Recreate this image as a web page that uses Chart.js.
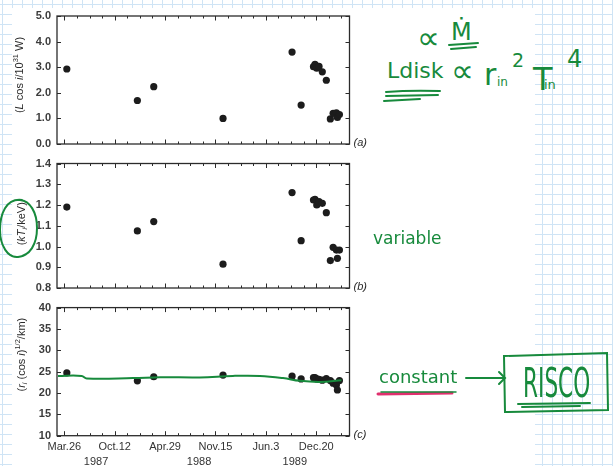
<!DOCTYPE html>
<html>
<head>
<meta charset="utf-8">
<script src="https://cdn.jsdelivr.net/npm/chart.js@4.4.0/dist/chart.umd.min.js"></script>
<style>
  html, body { margin: 0; padding: 0; }
  body {
    width: 613px; height: 466px; overflow: hidden; position: relative;
    background-color: #fff;
    background-image: linear-gradient(to right, #cfe4f5 1px, transparent 1px),
                      linear-gradient(to bottom, #cfe4f5 1px, transparent 1px);
    background-size: 10px 10px;
    background-position: 2px 4px;
  }
  #sheet { position: absolute; left: 12px; top: 8px; width: 523px; height: 458px; background: #fff; }
  canvas { position: absolute; left: 0; }
  .hw { position: absolute; color: #178a3c; font-family: "DejaVu Sans", sans-serif; font-weight: normal;
        white-space: nowrap; line-height: 1; }
  svg { position: absolute; left: 0; top: 0; }
</style>
</head>
<body>
<div id="sheet"></div>
<canvas id="lumChart" width="380" height="158" style="top:0"></canvas>
<canvas id="tempChart" width="380" height="152" style="top:150px"></canvas>
<canvas id="radChart" width="380" height="171" style="top:295px"></canvas>

<!-- handwritten notes -->
<div class="hw" style="left:417px;top:22px;font-size:32px">∝</div>
<div class="hw" style="left:451px;top:20px;font-size:24px">Ṁ</div>
<div class="hw" style="left:387px;top:60px;font-size:22px">Ldisk</div>
<div class="hw" style="left:451px;top:55px;font-size:32px">∝</div>
<div class="hw" style="left:484px;top:60px;font-size:30px">r</div>
<div class="hw" style="left:497px;top:76px;font-size:12px">in</div>
<div class="hw" style="left:512px;top:51px;font-size:19px">2</div>
<div class="hw" style="left:533px;top:63px;font-size:32px">T</div>
<div class="hw" style="left:544px;top:78px;font-size:13px">in</div>
<div class="hw" style="left:567px;top:47px;font-size:24px">4</div>
<div class="hw" style="left:373px;top:230px;font-size:17px">variable</div>
<div class="hw" style="left:379px;top:368px;font-size:18px">constant</div>
<div class="hw" style="left:523px;top:363px;font-size:40px;transform:scaleX(0.54);transform-origin:left top">RISCO</div>

<svg width="613" height="466" fill="none" stroke="#178a3c" stroke-width="2" stroke-linecap="round">
  <path d="M449 45 L478 43 M451 49 L476 47"/>
  <path d="M386 92 Q410 90 440 91 M386 96 L438 95 M384 101 L420 99"/>
  <path d="M378 394 L452 393" stroke="#e0306e" stroke-width="3"/>
  <path d="M381 392 L456 392" stroke-width="1.5"/>
  <path d="M466 378 L504 378 M499 372 L505 378 L499 384"/>
  <path d="M504 356 L607 353 L608 410 L505 412 Z"/>
  <path d="M518 404 L590 403 M522 407 L580 406"/>
  <path d="M22 200 C6 198 0 214 0 230 C0 246 8 258 18 257 C30 256 37 244 37 228 C37 212 30 201 20 200"/>
</svg>

<script>
// observation dates, days after 1987 Mar 26
const obsDays = [10, 290, 355, 630, 904, 940, 989, 995, 1002, 1011, 1024, 1040, 1056, 1067, 1080, 1084, 1092];
// (a) L cos i / 10^31 W
const lumValues = [2.93, 1.70, 2.24, 1.00, 3.59, 1.52, 3.02, 3.11, 2.96, 3.03, 2.82, 2.49, 0.98, 1.20, 1.22, 1.04, 1.15];
// (b) kT_i / keV
const tempValues = [1.19, 1.075, 1.12, 0.915, 1.26, 1.028, 1.224, 1.227, 1.20, 1.216, 1.208, 1.163, 0.932, 0.996, 0.983, 0.943, 0.983];
// (c) r_i (cos i)^1/2 / km
const radiusValues = [24.7, 22.85, 23.8, 24.2, 23.95, 23.3, 23.6, 23.6, 23.3, 23.2, 23.0, 23.4, 22.9, 22.3, 21.9, 20.7, 22.9];

// hand-drawn "constant" line over panel (c)
const sketchDays = [-25, 69, 89, 273, 380, 538, 669, 776, 868, 935, 1015, 1100];
const sketchRadius = [24.0, 24.0, 23.4, 23.5, 23.7, 23.65, 24.0, 24.0, 23.5, 22.85, 22.6, 23.0];

const tickDays = [0, 200, 400, 600, 800, 1000];
const tickLabels = ['Mar.26', 'Oct.12', 'Apr.29', 'Nov.15', 'Jun.3', 'Dec.20'];
const yearDays = [126, 535, 915];
const yearLabels = ['1987', '1988', '1989'];

const FONT = '"Liberation Sans", Arial, sans-serif';
const INK = '#2b2b2b';
const LABEL = '#333';

function drawRich(ctx, parts, cx, cy, size) {
    ctx.save();
    ctx.translate(cx, cy);
    ctx.rotate(-Math.PI / 2);
    const fontOf = p => (p.it ? 'italic ' : '') + ((p.sup || p.sub) ? size * 0.68 : size) + 'px ' + FONT;
    let w = 0;
    parts.forEach(p => { ctx.font = fontOf(p); w += ctx.measureText(p.t).width; });
    let x = -w / 2;
    ctx.textBaseline = 'middle';
    ctx.fillStyle = INK;
    parts.forEach(p => {
        ctx.font = fontOf(p);
        const dy = p.sup ? -size * 0.38 : p.sub ? size * 0.28 : 0;
        ctx.fillText(p.t, x, dy);
        x += ctx.measureText(p.t).width;
    });
    ctx.restore();
}

const framePlugin = {
    id: 'frame',
    afterDatasetsDraw(chart, args, opts) {
        const {ctx, chartArea: a, scales: {x, y}} = chart;
        ctx.save();
        ctx.strokeStyle = INK;
        ctx.lineWidth = 1.3;
        ctx.strokeRect(a.left, a.top, a.right - a.left, a.bottom - a.top);
        ctx.lineWidth = 1;
        ctx.beginPath();
        for (let d = 0; d <= 1100; d += 50) {
            const px = Math.round(x.getPixelForValue(d)) + 0.5;
            const len = d % 200 === 0 ? 4.5 : 2.5;
            ctx.moveTo(px, a.bottom); ctx.lineTo(px, a.bottom - len);
            ctx.moveTo(px, a.top); ctx.lineTo(px, a.top + len);
        }
        y.ticks.forEach(t => {
            const py = Math.round(y.getPixelForValue(t.value)) + 0.5;
            ctx.moveTo(a.left, py); ctx.lineTo(a.left + 4, py);
            ctx.moveTo(a.right, py); ctx.lineTo(a.right - 4, py);
        });
        ctx.stroke();

        ctx.fillStyle = INK;
        ctx.font = 'italic 11px ' + FONT;
        ctx.textBaseline = 'middle';
        ctx.fillText(opts.tag, a.right + 4, a.bottom - 1);

        drawRich(ctx, opts.title, opts.titleX, (a.top + a.bottom) / 2 + opts.titleShift, 11);

        if (opts.years) {
            ctx.font = '11px ' + FONT;
            ctx.textAlign = 'center';
            ctx.fillStyle = LABEL;
            yearLabels.forEach((lab, i) => {
                ctx.fillText(lab, x.getPixelForValue(yearDays[i]), a.bottom + 26);
            });
        }
        ctx.restore();
    }
};

function makePanel(id, values, yCfg, frame, pad, withAxis, extra) {
    const points = obsDays.map((d, i) => ({x: d, y: values[i]}));
    const datasets = (extra || []).concat([{
        type: 'scatter',
        data: points,
        pointRadius: 3.6,
        pointBackgroundColor: '#1c1c1c',
        pointBorderWidth: 0,
        order: 1
    }]);
    return new Chart(document.getElementById(id), {
        type: 'scatter',
        data: {datasets: datasets},
        options: {
            responsive: false,
            animation: false,
            layout: {padding: pad},
            plugins: {legend: {display: false}, tooltip: {enabled: false}, frame: frame},
            scales: {
                x: {
                    type: 'linear', min: -29, max: 1132,
                    display: withAxis,
                    grid: {display: false, drawTicks: false},
                    border: {display: false},
                    afterBuildTicks: s => { s.ticks = tickDays.map(v => ({value: v})); },
                    afterFit: s => { s.height = withAxis ? 30.3 : 0; },
                    ticks: {
                        autoSkip: false, maxRotation: 0, padding: 5, color: LABEL,
                        font: {family: FONT, size: 11},
                        callback: v => tickLabels[tickDays.indexOf(v)] || ''
                    }
                },
                y: Object.assign({
                    grid: {display: false, drawTicks: false},
                    border: {display: false},
                    afterFit: s => { s.width = 57; }
                }, yCfg)
            }
        },
        plugins: [framePlugin]
    });
}

const yTicks = (step, fmt) => ({
    stepSize: step, padding: 6, color: '#3c3c3c', autoSkip: false,
    font: {family: FONT, size: 11, weight: 'bold'},
    callback: fmt
});

makePanel('lumChart', lumValues,
    {min: 0, max: 5, ticks: yTicks(1, v => v.toFixed(1))},
    {tag: '(a)', titleX: 20, titleShift: -5,
     title: [{t: '('}, {t: 'L', it: true}, {t: ' cos '}, {t: 'i', it: true}, {t: '/10'}, {t: '31', sup: true}, {t: ' W)'}]},
    {top: 16, bottom: 14, left: 0, right: 30.5}, false);

makePanel('tempChart', tempValues,
    {min: 0.8, max: 1.4, ticks: yTicks(0.1, v => v.toFixed(1))},
    {tag: '(b)', titleX: 22, titleShift: -2,
     title: [{t: '('}, {t: 'kT', it: true}, {t: 'i', sub: true, it: true}, {t: '/keV)'}]},
    {top: 13.5, bottom: 14, left: 0, right: 30.5}, false);

makePanel('radChart', radiusValues,
    {min: 10, max: 40, ticks: yTicks(5, v => String(v))},
    {tag: '(c)', titleX: 22, titleShift: -17, years: true,
     title: [{t: '('}, {t: 'r', it: true}, {t: 'i', sub: true, it: true}, {t: ' (cos '}, {t: 'i', it: true}, {t: ')'}, {t: '1/2', sup: true}, {t: '/km)'}]},
    {top: 12.3, bottom: 0, left: 0, right: 30.5}, true,
    [{
        type: 'line',
        data: sketchDays.map((d, i) => ({x: d, y: sketchRadius[i]})),
        borderColor: '#178a3c',
        borderWidth: 2,
        pointRadius: 0,
        tension: 0.4,
        order: 0
    }]);
</script>
</body>
</html>
